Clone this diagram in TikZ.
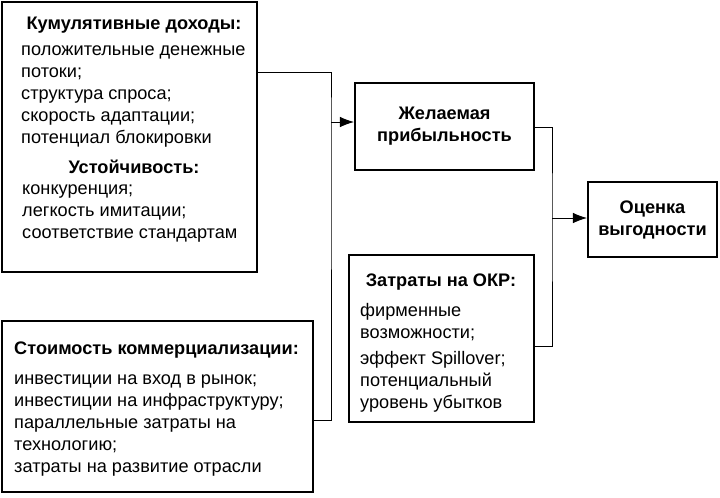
\documentclass[tikz,border=0pt]{standalone}
\usepackage{fontspec}
\setmainfont{Liberation Sans}
\usetikzlibrary{arrows.meta,positioning}

\begin{document}
\begin{tikzpicture}[
    x=0.03cm, y=-0.03cm,
    font=\fontsize{15.5}{18.8}\selectfont,
    >=Latex,
    % styles
    box/.style={draw, line width=1.7pt, rectangle, inner sep=0pt},
    head/.style={font=\fontsize{15.5}{18.8}\selectfont\bfseries, inner sep=0pt},
    items/.style={align=left, anchor=north west, inner sep=0pt},
    line/.style={draw, line width=0.8pt},
    arrow/.style={line, -{Latex[length=12pt,width=9pt]}}
]
    \useasboundingbox (0,0) rectangle (720,497);

    % --- boxes ---
    \draw[box] (2,2) rectangle (257,272);
    \node[minimum width=0pt] (income) at (257,72) {};
    \draw[box] (2,321) rectangle (313,492);
    \node (comm) at (313,420) {};
    \draw[box] (355,83) rectangle (534,170);
    \node[align=center, head] (profit) at (444.5,126.5) {Желаемая\\прибыльность};
    \draw[box] (349,255) rectangle (534,422);
    \node (rnd) at (534,346) {};
    \draw[box] (588,182) rectangle (717,257);
    \node[align=center, head] (value) at (652.5,219.5) {Оценка\\выгодности};

    % --- texts ---
    \node[head] (incomehead) at (134,25) {Кумулятивные доходы:};
    \node[items] (incomeitems) at (21,45) {положительные денежные\\потоки;\\структура спроса;\\скорость адаптации;\\потенциал блокировки};
    \node[head] (stabhead) at (134,167) {Устойчивость:};
    \node[items] (stabitems) at (22,184) {конкуренция;\\легкость имитации;\\соответствие стандартам};
    \node[head, anchor=west] (commhead) at (14,350) {Стоимость коммерциализации:};
    \node[items] (commitems) at (14,374) {инвестиции на вход в рынок;\\инвестиции на инфраструктуру;\\параллельные затраты на\\технологию;\\затраты на развитие отрасли};
    \node[head] (rndhead) at (441,282) {Затраты на ОКР:};
    \node[items] (rnditems1) at (360,303) {фирменные\\возможности;};
    \node[items] (rnditems2) at (360,351) {эффект Spillover;\\потенциальный\\уровень убытков};

    % --- connectors ---
    \coordinate (join1) at (331,122);
    \draw[line] (income.center) -| (join1) |- (comm.center);
    \draw[arrow] (join1) -- (354,122);
    \coordinate (join2) at (552,218);
    \draw[line] (534,127) -| (join2) |- (rnd.center);
    \draw[arrow] (join2) -- (587,218);
\end{tikzpicture}
\end{document}
